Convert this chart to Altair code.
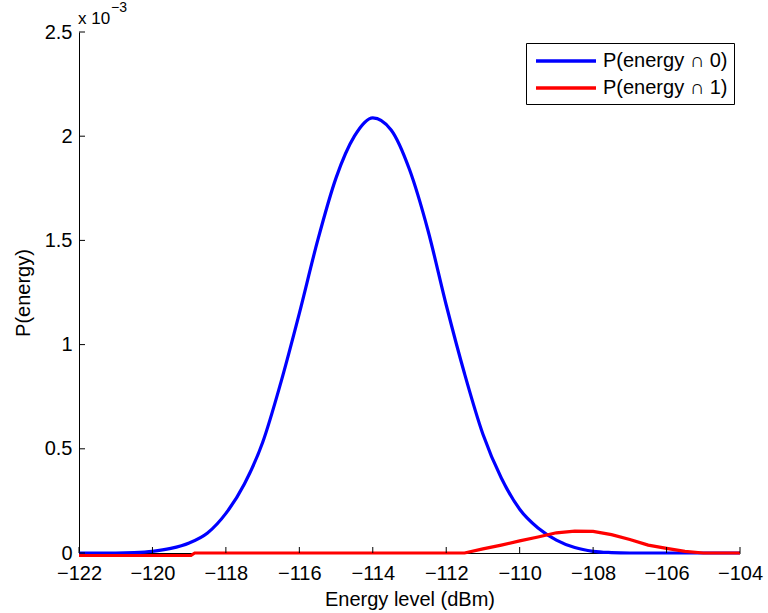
import altair as alt
import pandas as pd

# ---- data (values in units of 1e-3) ----
x_blue = [-122, -121.5, -121, -120.5, -120, -119.5, -119, -118.5, -118, -117.5,
          -117, -116.5, -116, -115.5, -115, -114.5, -114, -113.5, -113, -112.5,
          -112, -111.5, -111, -110.5, -110, -109.5, -109, -108.5, -108, -107.5,
          -107, -106, -105, -104]
p_blue = [0, 0, 0, 0.002, 0.008, 0.022, 0.048, 0.096, 0.19, 0.33,
          0.53, 0.82, 1.15, 1.50, 1.80, 2.00, 2.088, 2.03, 1.84, 1.55,
          1.19, 0.86, 0.57, 0.36, 0.21, 0.12, 0.062, 0.026, 0.008, 0.002,
          0, 0, 0, 0]

x_red = [-122, -118.95, -118.85, -115, -111.5, -111, -110.5, -110, -109.5, -109,
         -108.5, -108, -107.5, -107, -106.5, -106, -105.5, -105, -104]
p_red = [-0.012, -0.012, 0, 0, 0, 0.02, 0.038, 0.058, 0.077, 0.097,
         0.105, 0.104, 0.088, 0.065, 0.038, 0.022, 0.008, 0, 0]

series_names = ["P(energy \u2229 0)", "P(energy \u2229 1)"]
series_colors = ["#0000ff", "#ff0000"]
x_ticks = [-122, -120, -118, -116, -114, -112, -110, -108, -106, -104]
y_ticks = [0, 0.5, 1, 1.5, 2, 2.5]

W, H = 661, 521
FONT = "Liberation Sans"
FS = 20

df = pd.concat([
    pd.DataFrame({"x": x_blue, "p": p_blue, "series": series_names[0]}),
    pd.DataFrame({"x": x_red, "p": p_red, "series": series_names[1]}),
])

xscale = alt.Scale(domain=[-122, -104], nice=False, zero=False)
yscale = alt.Scale(domain=[0, 2.5], nice=False, zero=False)

color = alt.Color(
    "series:N",
    scale=alt.Scale(domain=series_names, range=series_colors),
    legend=alt.Legend(
        title=None, orient="none", legendX=447, legendY=11,
        symbolType="M-0.8,0H5.2", symbolSize=400, symbolStrokeWidth=3.5,
        labelOffset=47, labelFontSize=FS, labelFont=FONT, labelColor="black",
        rowPadding=5, padding=6, strokeColor="black", fillColor="white",
        labelLimit=300,
    ),
)

xenc = alt.X("x:Q", scale=xscale, title="Energy level (dBm)",
             axis=alt.Axis(values=x_ticks, format="~g", ticks=False, tickSize=0, grid=False,
                           domainColor="black", labelFontSize=FS, labelFont=FONT,
                           labelColor="black", labelPadding=10, titleFontSize=FS,
                           titleFont=FONT, titleFontWeight="normal",
                           titleColor="black", titlePadding=6, labelFlush=False))
yenc = alt.Y("p:Q", scale=yscale, title="P(energy)",
             axis=alt.Axis(values=y_ticks, format="~g", ticks=False, tickSize=0, grid=False,
                           domainColor="black", labelFontSize=FS, labelFont=FONT,
                           labelColor="black", labelPadding=7, titleFontSize=FS,
                           titleFont=FONT, titleFontWeight="normal",
                           titleColor="black", titlePadding=11, labelFlush=False))

base = alt.Chart(df)
blue = base.transform_filter(alt.datum.series == series_names[0]).mark_line(
    strokeWidth=3.2, interpolate="monotone").encode(x=xenc, y=yenc, color=color)
red = base.transform_filter(alt.datum.series == series_names[1]).mark_line(
    strokeWidth=3.2).encode(x=xenc, y=yenc, color=color)

xt = alt.Chart(pd.DataFrame({"x": x_ticks})).mark_rule(color="black", strokeWidth=1).encode(
    x=xenc, y=alt.value(H), y2=alt.value(H - 6))
yt = alt.Chart(pd.DataFrame({"p": y_ticks})).mark_rule(color="black", strokeWidth=1).encode(
    y=yenc, x=alt.value(0), x2=alt.value(6))

mult = alt.Chart(pd.DataFrame({"t": ["x 10"]})).mark_text(
    align="left", baseline="alphabetic", fontSize=17, font=FONT, color="black").encode(
    x=alt.value(-1), y=alt.value(-8), text="t:N")
expo = alt.Chart(pd.DataFrame({"t": ["\u22123"]})).mark_text(
    align="left", baseline="alphabetic", fontSize=14, font=FONT, color="black").encode(
    x=alt.value(32), y=alt.value(-20), text="t:N")

chart = alt.layer(blue, red, xt, yt, mult, expo).properties(
    width=W, height=H,
    padding={"left": 79, "top": 32, "right": 28, "bottom": 60},
    autosize=alt.AutoSizeParams(type="none"),
    background="white",
).configure_view(strokeWidth=0)

chart.save("out.html", embed_options={"renderer": "svg", "actions": False})
